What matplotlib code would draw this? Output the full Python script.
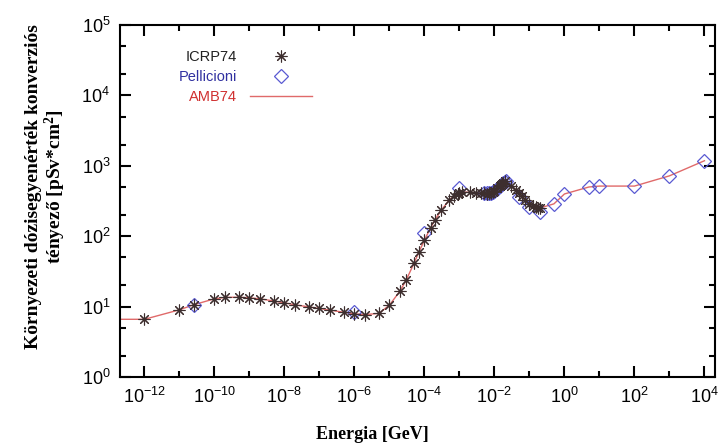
import numpy as np
import matplotlib
matplotlib.use("Agg")
import matplotlib.pyplot as plt
from matplotlib.ticker import LogLocator, FixedLocator, NullFormatter

plt.rcParams['font.family'] = ['Liberation Sans', 'DejaVu Sans']
plt.rcParams['mathtext.default'] = 'regular'

# ICRP74 (energy in GeV, H*(10) coefficient in pSv cm^2)
icrp_e = [1e-12, 1e-11, 2.53e-11, 1e-10, 2e-10, 5e-10, 1e-9, 2e-9, 5e-9, 1e-8,
          2e-8, 5e-8, 1e-7, 2e-7, 5e-7, 1e-6, 2e-6, 5e-6, 1e-5, 2e-5,
          3e-5, 5e-5, 7e-5, 1e-4, 1.5e-4, 2e-4, 3e-4, 5e-4, 7e-4, 9e-4,
          1e-3, 1.2e-3, 2e-3, 3e-3, 4e-3, 5e-3, 6e-3, 7e-3, 8e-3, 9e-3,
          1e-2, 1.2e-2, 1.4e-2, 1.5e-2, 1.6e-2, 1.8e-2, 2e-2,
          0.03, 0.04, 0.05, 0.06, 0.075, 0.1, 0.13, 0.15, 0.18, 0.2]
icrp_v = [6.6, 9.0, 10.6, 12.9, 13.5, 13.6, 13.3, 12.9, 12.0, 11.3,
          10.6, 9.9, 9.4, 8.9, 8.3, 7.9, 7.7, 8.0, 10.5, 16.6,
          23.7, 41.1, 60.0, 88.0, 132, 170, 233, 322, 375, 400,
          416, 425, 420, 412, 408, 405, 400, 405, 409, 420,
          440, 480, 520, 540, 555, 570, 600,
          510, 460, 410, 370, 330, 290, 270, 262, 255, 252]

# Pellicioni
pell_e = [2.53e-11, 1e-6, 1e-4, 1e-3, 5e-3, 6e-3, 7e-3, 8e-3, 9e-3, 1e-2,
          1.2e-2, 1.4e-2, 1.6e-2, 1.8e-2, 2e-2, 2.2e-2,
          0.05, 0.1, 0.2, 0.5, 1.0, 5.0, 10.0, 100.0, 1000.0, 10000.0]
pell_v = [10.4, 8.4, 110, 480, 410, 405, 410, 415, 425, 440,
          470, 510, 545, 570, 590, 600,
          360, 260, 220, 288, 398, 500, 515, 515, 720, 1180]

# AMB74 curve: ICRP74 up to 0.2 GeV, Pellicioni above
amb_e = [2e-13] + icrp_e + [0.5, 1.0, 5.0, 10.0, 100.0, 1000.0, 10000.0]
amb_v = [6.6] + icrp_v + [288, 398, 500, 515, 515, 720, 1180]

fig = plt.figure(figsize=(7.21, 4.43), dpi=100)
ax = fig.add_axes([0.1664, 0.149, 0.8253, 0.7946])

ax.plot(amb_e, amb_v, color='#e06a6a', lw=1.0, label='AMB74', zorder=1)
ax.plot(icrp_e, icrp_v, ls='none', marker=(8, 2, 0), ms=8.5, mew=0.8,
        color='#3d2e2e', label='ICRP74', zorder=3)
ax.plot(pell_e, pell_v, ls='none', marker='D', ms=7, mew=0.9,
        mfc='none', mec='#5a5ad2', label='Pellicioni', zorder=2)

ax.set_xscale('log')
ax.set_yscale('log')
ax.set_xlim(2e-13, 2e4)
ax.set_ylim(1, 1e5)

ax.xaxis.set_major_locator(FixedLocator([10.0**k for k in range(-12, 5, 2)]))
ax.xaxis.set_minor_locator(FixedLocator([10.0**k for k in range(-11, 4, 2)]))
ax.xaxis.set_minor_formatter(NullFormatter())
ax.yaxis.set_major_locator(LogLocator(base=10, numticks=10))
ax.yaxis.set_minor_locator(LogLocator(base=10, subs=(2.0, 5.0), numticks=10))
ax.yaxis.set_minor_formatter(NullFormatter())

ax.tick_params(which='both', direction='in', top=True, right=True,
               labelsize=13, width=1.5, pad=7)
ax.tick_params(which='major', length=8)
ax.tick_params(which='minor', length=4)
for s in ax.spines.values():
    s.set_linewidth(1.5)

ax.set_xlabel('Energia [GeV]', fontsize=13, fontweight='bold',
              family='Liberation Serif')
ax.xaxis.set_label_coords(0.424, -0.14)
ax.set_ylabel('Környezeti dózisegyenérték konverziós\ntényező [pSv*cm$^2$]',
              fontsize=14, fontweight='bold', family='Liberation Serif',
              linespacing=1.05)
ax.yaxis.set_label_coords(-0.087, 0.54)

h, l = ax.get_legend_handles_labels()
order = [1, 2, 0]
leg = ax.legend([h[i] for i in order], [l[i] for i in order],
                loc='upper right', bbox_to_anchor=(0.3227, 0.93),
                borderaxespad=0, borderpad=0,
                frameon=False, markerfirst=False, fontsize=10.5,
                handlelength=4.25, handletextpad=0.9, labelspacing=0.42,
                labelcolor=['#222222', '#3030a0', '#d03030'])

fig.savefig('out.png', dpi=100)
